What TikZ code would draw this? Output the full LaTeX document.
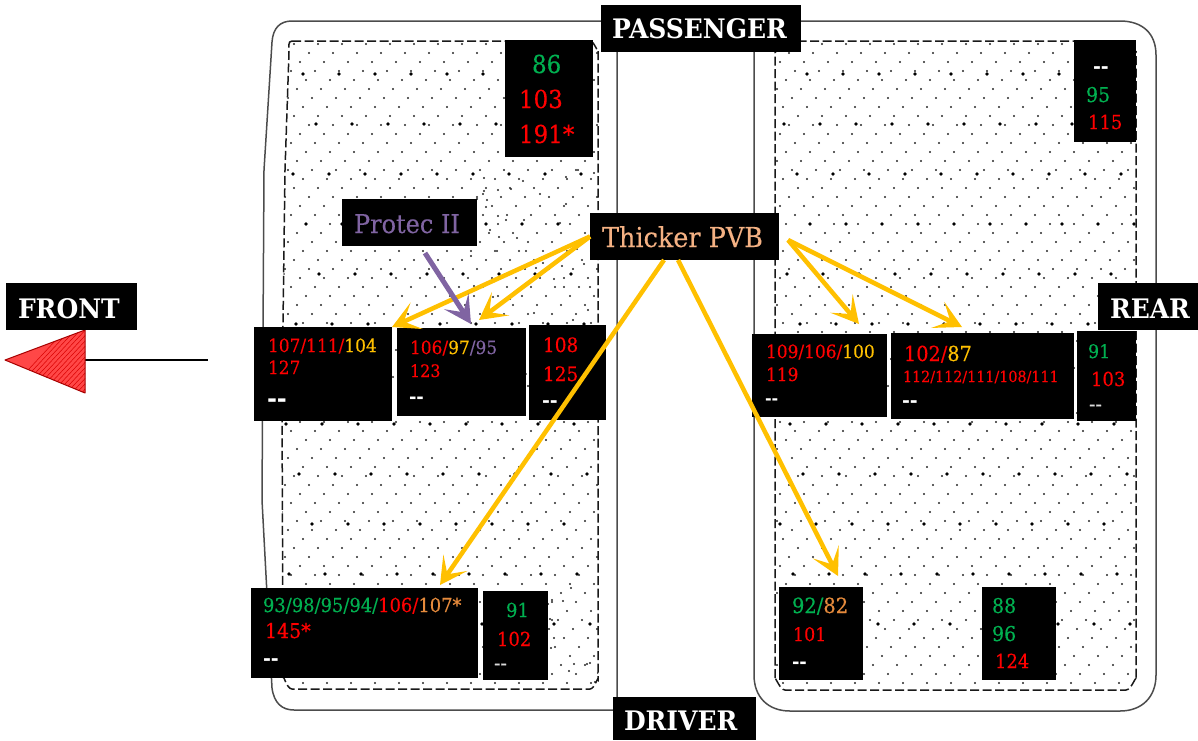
\documentclass[tikz,border=0pt]{standalone}
\usepackage{fontspec}
\setmainfont{DejaVu Serif}[FakeStretch=0.93,UprightFeatures={FakeBold=0.25}]
\usetikzlibrary{arrows.meta,fit}
\definecolor{cgreen}{HTML}{00B050}
\definecolor{cred}{HTML}{FF0000}
\definecolor{cyel}{HTML}{FFC000}
\definecolor{cpur}{HTML}{8064A2}
\definecolor{corg}{HTML}{E58A3C}
\definecolor{ctan}{HTML}{F4B183}
\newcommand{\fs}[1]{\fontsize{\the\dimexpr #1pt*1075/1000\relax}{\the\dimexpr #1pt*1075/1000\relax}\selectfont}
\newcommand{\gr}[1]{\textcolor{cgreen}{#1}}
\newcommand{\rd}[1]{\textcolor{cred}{#1}}
\newcommand{\yl}[1]{\textcolor{cyel}{#1}}
\newcommand{\pu}[1]{\textcolor{cpur}{#1}}
\newcommand{\og}[1]{\textcolor{corg}{#1}}
\newcommand{\dd}{{-}{-}}
\tikzset{
  blackbox/.style={fill=black,draw=none,inner sep=0pt,outer sep=0pt},
  txt/.style={anchor=base west,inner sep=0pt,outer sep=0pt},
  dashtxt/.style={txt,text=white,font=\bfseries\fs{#1}},
  headtxt/.style={txt,text=white,font=\bfseries\fs{25}},
  outline/.style={draw=black!70,line width=1.5pt},
  cutline/.style={draw=black!90,line width=1.5pt,dash pattern=on 9pt off 3.5pt},
  ylarrow/.style={draw=cyel,line width=4.5pt,-{Stealth[length=27pt,width=29pt,inset=14pt]}},
  puarrow/.style={draw=cpur,line width=5pt,-{Stealth[length=27pt,width=29pt,inset=13pt]}},
}
\newcommand{\blk}[5]{\node[blackbox,fit={(#2,#3)(#4,#5)}] (#1) {};}
\newcommand{\lefcut}{(292,41) -- (590,41) to[out=0,in=-90] (598,50) -- (598,680) to[out=90,in=0] (590,689) -- (292,689) to[out=180,in=90] (283,678) -- (282,400) -- (285,170) -- (289,52) to[out=90,in=180] (292,41) -- cycle}
\begin{document}
\begin{tikzpicture}[x=1pt,y=-1pt]
\useasboundingbox (0,0) rectangle (1198,740);
% outer outlines
\draw[outline] (617,21) -- (292,21) .. controls (280,21) and (273,28) .. (272,42) -- (264,170) -- (262,500) -- (272,688) .. controls (274,703) and (282,710) .. (294,710) -- (617,710) -- (617,21);
\draw[outline] (775,21) -- (1120,21) .. controls (1142,21) and (1156,33) .. (1156,55) -- (1156,675) .. controls (1156,697) and (1142,711) .. (1120,711) -- (790,711) .. controls (768,711) and (754,697) .. (754,675) -- (754,50) .. controls (754,33) and (762,21) .. (775,21);
% stipple
\begin{scope}
\clip (292,41) -- (590,41) -- (598,50) -- (598,680) -- (590,689) -- (292,689) -- (283,678) -- (282,400) -- (285,170) -- (289,52) -- cycle
      (785,41) -- (1126,41) -- (1136,51) -- (1136,680) -- (1126,690) -- (785,690) -- (775,680) -- (775,51) -- cycle;
\foreach \r in {0,...,72}{
  \foreach \c in {0,...,36}{
    \pgfmathsetmacro{\px}{270+24*\c+mod(\r*15,24)}
    \pgfmathsetmacro{\py}{44+9*\r}
    \fill[black!85] (\px,\py) circle (1.15);
  }
}
\foreach \r in {0,...,11}{
  \foreach \c in {0,...,24}{
    \pgfmathsetmacro{\px}{267+36*\c+mod(\r*13,36)}
    \pgfmathsetmacro{\py}{74+50*\r}
    \fill[black] (\px,\py) circle (1.9);
  }
}
\pgfmathsetseed{7}
\foreach \i in {1,...,40}{
  \pgfmathsetmacro{\px}{random(470,600)}
  \pgfmathsetmacro{\py}{random(170,320)}
  \fill[black!85] (\px,\py) circle (1.1);
}
\foreach \i in {1,...,15}{
  \pgfmathsetmacro{\px}{random(548,600)}
  \pgfmathsetmacro{\py}{random(585,685)}
  \fill[black!85] (\px,\py) circle (1.2);
}
\end{scope}
% dashed cut lines
\draw[cutline] \lefcut;
\draw[cutline] (785,41) -- (1126,41) to[out=0,in=-90] (1136,51) -- (1136,680) to[out=90,in=0] (1126,690) -- (785,690) to[out=180,in=90] (775,680) -- (775,51) to[out=-90,in=180] (785,41) -- cycle;
% front arrow
\coordinate (lineend) at (208,360);
\node[inner sep=0pt,outer sep=0pt,minimum size=0pt] (fronttail) at (84,360) {};
\draw[black,line width=2.2pt] (fronttail) -- (lineend);
\begin{scope}
\clip (5,360) -- (85,330) -- (85,393) -- cycle;
\fill[red!72!white] (0,325) rectangle (90,395);
\foreach \k in {0,5,...,130}{ \draw[red!85!black,line width=0.5pt] (\k,400) -- (\k+70,325); }
\end{scope}
\draw[red!65!black,line width=1pt,line join=round] (5,360) -- (85,330) -- (85,393) -- cycle;
% black boxes
\blk{front}{6}{283}{137}{330}
\blk{passenger}{601}{5}{801}{52}
\blk{rear}{1098}{283}{1198}{330}
\blk{driver}{613}{697}{756}{740}
\blk{protec}{342}{199}{477}{246}
\blk{pvb}{590}{213}{779}{260}
\blk{bA}{505}{40}{593}{157}
\blk{bB}{1074}{40}{1136}{142}
\blk{bC}{254}{327}{392}{421}
\blk{bD}{397}{328}{526}{416}
\blk{bE}{529}{325}{606}{420}
\blk{bF}{752}{334}{887}{417}
\blk{bG}{891}{333}{1074}{419}
\blk{bH}{1077}{331}{1136}{421}
\blk{bI}{251}{588}{478}{678}
\blk{bJ}{483}{591}{548}{680}
\blk{bK}{779}{587}{863}{680}
\blk{bL}{982}{587}{1056}{680}
% connectors
\coordinate (tipD) at (479,320);
\coordinate (tipI) at (440,585);
\coordinate (tipK) at (838,576);
\coordinate (tipF) at (859,324);
\coordinate (tipG) at (962,327);
\coordinate (tipP) at (471,324);
\coordinate (pvbS1) at (664,260);
\coordinate (pvbS2) at (678,260);
\coordinate (pvbE) at (788,240);
\coordinate (protS) at (425,253);
\draw[ylarrow] (pvb.west) -- (bC.north east);
\draw[ylarrow] (pvb.west) -- (tipD);
\draw[ylarrow] (pvbS1) -- (tipI);
\draw[ylarrow] (pvbS2) -- (tipK);
\draw[ylarrow] (pvbE) -- (tipF);
\draw[ylarrow] (pvbE) -- (tipG);
\draw[puarrow] (protS) -- (tipP);
% headings
\node[headtxt] (tfront) at (18,318) {FRONT};
\node[headtxt] (tpass) at (612,38) {PASSENGER};
\node[headtxt] (trear) at (1110,318) {REAR};
\node[headtxt] (tdriver) at (624,730) {DRIVER};
\node[txt,font=\fs{24},text=cpur] (tprotec) at (354,233) {Protec II};
\node[txt,font=\fs{25.5},text=ctan] (tpvb) at (602,247) {Thicker PVB};
% box A
\node[txt,font=\fs{23}] (a1) at (532,73) {\gr{86}};
\node[txt,font=\fs{23}] (a2) at (519,108) {\rd{103}};
\node[txt,font=\fs{23}] (a3) at (519,143) {\rd{191*}};
% box B
\node[dashtxt=19] (b1) at (1093,73) {\dd};
\node[txt,font=\fs{19}] (b2) at (1086,102) {\gr{95}};
\node[txt,font=\fs{18}] (b3) at (1088,129) {\rd{115}};
% box C
\node[txt,font=\fs{17}] (c1) at (268,352) {\rd{107/111/}\yl{104}};
\node[txt,font=\fs{17}] (c2) at (268,374) {\rd{127}};
\node[dashtxt=24] (c3) at (267,407.5) {\dd};
% box D
\node[txt,font=\fs{17}] (d1) at (410,354) {\rd{106/}\yl{97}\pu{/95}};
\node[txt,font=\fs{16}] (d2) at (410,377) {\rd{123}};
\node[dashtxt=18] (d3) at (409,403) {\dd};
% box E
\node[txt,font=\fs{18.5}] (e1) at (543,352) {\rd{108}};
\node[txt,font=\fs{18.5}] (e2) at (543,381) {\rd{125}};
\node[dashtxt=19] (e3) at (542,407) {\dd};
% box F
\node[txt,font=\fs{17}] (f1) at (766,358) {\rd{109/106/}\yl{100}};
\node[txt,font=\fs{17}] (f2) at (766,381) {\rd{119}};
\node[dashtxt=16] (f3) at (765,404) {\dd};
% box G
\node[txt,font=\fs{19.3}] (g1) at (904,361) {\rd{102/}\yl{87}};
\node[txt,font=\fs{14.3}] (g2) at (903,382) {\rd{112/112/111/108/111}};
\node[dashtxt=19] (g3) at (902,407) {\dd};
% box H
\node[txt,font=\fs{17.5}] (h1) at (1088,358) {\gr{91}};
\node[txt,font=\fs{18}] (h2) at (1091,386) {\rd{103}};
\node[txt,text=white!85!black,font=\fs{19}] (h3) at (1089,411) {\dd};
% box I
\node[txt,font=\fs{17.9}] (i1) at (263,612) {\gr{93/98/95/94/}\rd{106/}\og{107*}};
\node[txt,font=\fs{19}] (i2) at (265,638) {\rd{145*}};
\node[dashtxt=19] (i3) at (263,665) {\dd};
% box J
\node[txt,font=\fs{18}] (j1) at (506,617) {\gr{91}};
\node[txt,font=\fs{18}] (j2) at (497,646) {\rd{102}};
\node[txt,text=white!85!black,font=\fs{19}] (j3) at (494,670) {\dd};
% box K
\node[txt,font=\fs{19.5}] (k1) at (792,613) {\gr{92/}\og{82}};
\node[txt,font=\fs{17.5}] (k2) at (793,641) {\rd{101}};
\node[dashtxt=18] (k3) at (792,668) {\dd};
% box L
\node[txt,font=\fs{19}] (l1) at (992,613) {\gr{88}};
\node[txt,font=\fs{19}] (l2) at (992,641) {\gr{96}};
\node[txt,font=\fs{18}] (l3) at (995,668) {\rd{124}};
\end{tikzpicture}
\end{document}
